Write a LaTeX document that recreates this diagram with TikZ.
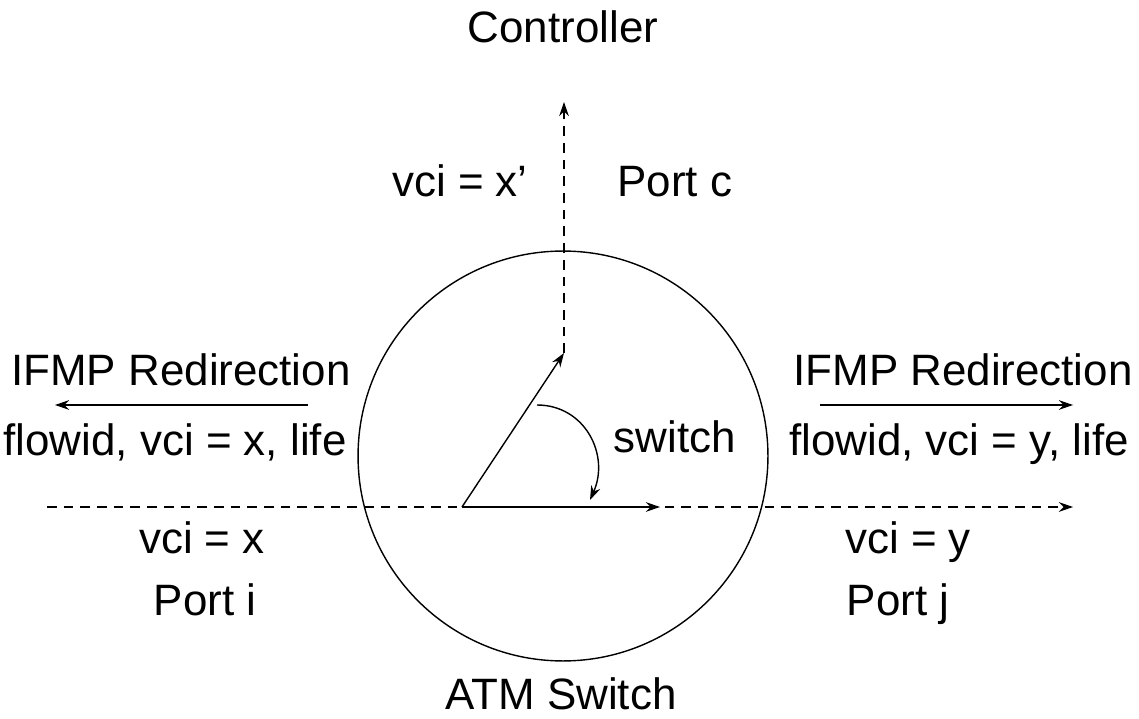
\documentclass[tikz,border=0pt]{standalone}
\usepackage{fontspec}
\setmainfont{Liberation Sans}
\usetikzlibrary{arrows.meta}
\begin{document}
\begin{tikzpicture}[x=0.02cm,y=-0.02cm,line width=0.8pt,>={Stealth[length=8pt,width=5.5pt]},
	font=\fontsize{25}{29}\selectfont,every node/.style={inner sep=0pt,anchor=base},
	flow/.style={dash pattern=on 5.5pt off 4pt}]
	\useasboundingbox (0,0) rectangle (1139,719);
	\node[circle,draw,minimum size=8.2cm,anchor=center] (atm) at (563,456) {};
	\coordinate (ci) at (462,507);
	\coordinate (cc) at (564,353);
	\coordinate (ctop) at (564,102);
	\coordinate (lin) at (47,507);
	\coordinate (rout) at (1073,507);
	\coordinate (cj) at (660,507);
	\coordinate (ls) at (308,405); \coordinate (le) at (55,405);
	\coordinate (rs) at (820,405); \coordinate (re) at (1073,405);
	\coordinate (sa) at (537,405); \coordinate (sb) at (590,500);
	\draw[flow,->] (lin)--(rout);
	\draw[flow,->] (cc)--(ctop);
	\draw[->] (ci)--(cc);
	\draw[->] (ci)--(cj);
	\draw[->] (sa) .. controls (585,405) and (610,455) .. (sb);
	\draw[->] (ls)--(le);
	\draw[->] (rs)--(re);
	\node (ctl) at (563,43) {Controller};
	\node (vcc) at (460,197) {vci = x'};
	\node (pc) at (675,197) {Port c};
	\node (sw) at (675,452) {switch};
	\node (lred) at (181,385) {IFMP Redirection};
	\node (lflow) at (175,455) {flowid, vci = x, life};
	\node (rred) at (963,385) {IFMP Redirection};
	\node (rflow) at (959,455) {flowid, vci = y, life};
	\node (vci) at (202,553) {vci = x};
	\node (pi) at (205,615) {Port i};
	\node (vcj) at (908,553) {vci = y};
	\node (pj) at (898,615) {Port j};
	\node (name) at (561,709) {ATM Switch};
\end{tikzpicture}
\end{document}
